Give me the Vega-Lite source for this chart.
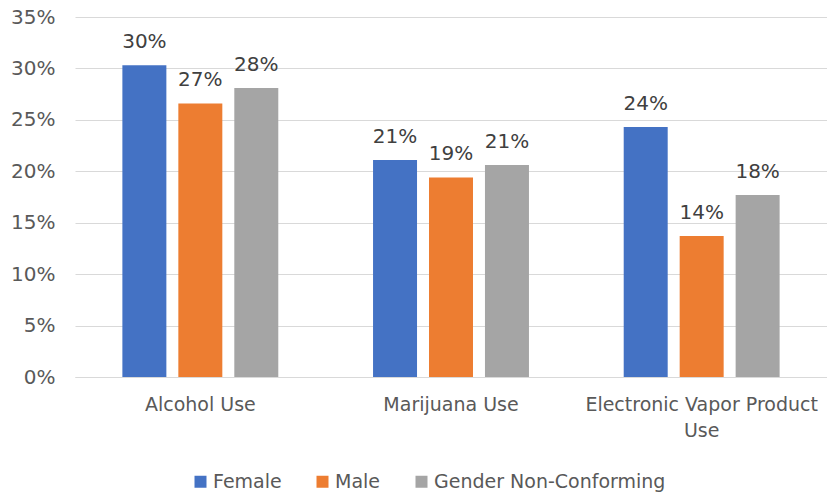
{
  "$schema": "https://vega.github.io/schema/vega-lite/v6.json",
  "width": 752,
  "height": 360,
  "autosize": {"type": "none"},
  "padding": {"left": 75, "top": 17, "right": 0, "bottom": 117},
  "background": "white",
  "config": {
    "view": {"stroke": null},
    "font": "DejaVu Sans"
  },
  "data": {
    "values": [
      {"behavior": "Alcohol Use", "gender": "Female", "value": 0.303},
      {"behavior": "Alcohol Use", "gender": "Male", "value": 0.266},
      {"behavior": "Alcohol Use", "gender": "Gender Non-Conforming", "value": 0.281},
      {"behavior": "Marijuana Use", "gender": "Female", "value": 0.211},
      {"behavior": "Marijuana Use", "gender": "Male", "value": 0.194},
      {"behavior": "Marijuana Use", "gender": "Gender Non-Conforming", "value": 0.206},
      {"behavior": "Electronic Vapor Product Use", "gender": "Female", "value": 0.243},
      {"behavior": "Electronic Vapor Product Use", "gender": "Male", "value": 0.137},
      {"behavior": "Electronic Vapor Product Use", "gender": "Gender Non-Conforming", "value": 0.177}
    ]
  },
  "encoding": {
    "x": {
      "field": "behavior",
      "type": "nominal",
      "sort": ["Alcohol Use", "Marijuana Use", "Electronic Vapor Product Use"],
      "scale": {"paddingInner": 0.378, "paddingOuter": 0.189},
      "axis": {
        "title": null,
        "labelAngle": 0,
        "ticks": false,
        "domainColor": "#d9d9d9",
        "labelFont": "DejaVu Sans",
        "labelFontSize": 19,
        "labelColor": "#595959",
        "labelPadding": 18,
        "labelLineHeight": 26,
        "labelLimit": 0,
        "labelOverlap": false,
        "labelExpr": "datum.label == 'Electronic Vapor Product Use' ? ['Electronic Vapor Product', 'Use'] : datum.label"
      }
    },
    "xOffset": {
      "field": "gender",
      "type": "nominal",
      "sort": ["Female", "Male", "Gender Non-Conforming"],
      "scale": {"paddingInner": 0.214, "paddingOuter": 0}
    },
    "y": {
      "field": "value",
      "type": "quantitative",
      "scale": {"domain": [0, 0.35]},
      "axis": {
        "title": null,
        "format": ".0%",
        "values": [0, 0.05, 0.1, 0.15, 0.2, 0.25, 0.3, 0.35],
        "domain": false,
        "ticks": false,
        "gridColor": "#d9d9d9",
        "labelFont": "DejaVu Sans",
        "labelFontSize": 20,
        "labelColor": "#595959",
        "labelPadding": 20
      }
    }
  },
  "layer": [
    {
      "mark": {"type": "bar"},
      "encoding": {
        "color": {
          "field": "gender",
          "type": "nominal",
          "sort": ["Female", "Male", "Gender Non-Conforming"],
          "scale": {
            "domain": ["Female", "Male", "Gender Non-Conforming"],
            "range": ["#4472C4", "#ED7D31", "#A5A5A5"]
          },
          "legend": {
            "title": null,
            "orient": "none",
            "direction": "horizontal",
            "legendX": 116,
            "legendY": 455,
            "symbolType": "square",
            "symbolSize": 144,
            "symbolStrokeWidth": 0,
            "labelFont": "DejaVu Sans",
            "labelFontSize": 19,
            "labelColor": "#595959",
            "labelOffset": 3,
            "labelLimit": 0,
            "columnPadding": 31
          }
        }
      }
    },
    {
      "mark": {
        "type": "text",
        "baseline": "bottom",
        "dy": -13,
        "font": "DejaVu Sans",
        "fontSize": 20,
        "color": "#404040"
      },
      "encoding": {
        "text": {"field": "value", "type": "quantitative", "format": ".0%"}
      }
    }
  ]
}
